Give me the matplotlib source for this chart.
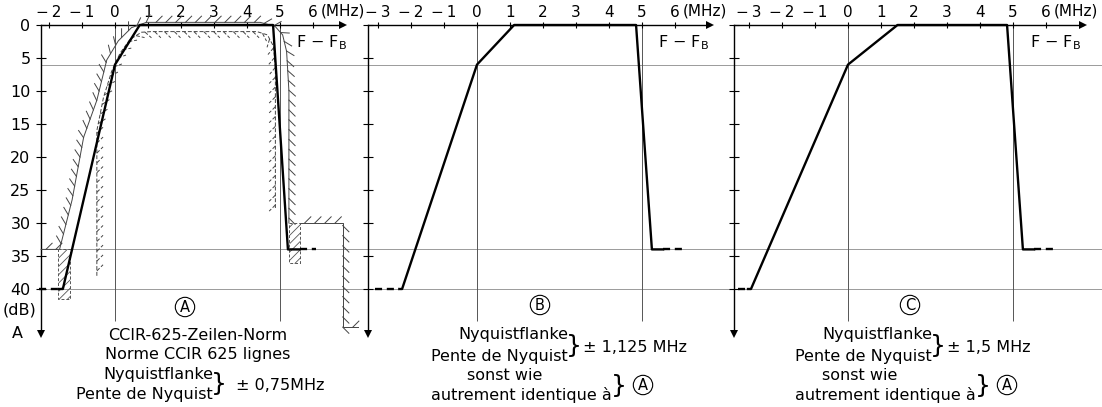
import matplotlib.pyplot as plt
import matplotlib.patheffects as pe
from matplotlib.patches import Rectangle

plt.rcParams['font.family'] = ['DejaVu Sans']
plt.rcParams['hatch.linewidth'] = 0.6

W, H = 1102, 407
PX_MHZ = 33.0
PX_DB = 6.6
Y0 = 25          # pixel row of 0 dB
DB_MAX = 48      # bottom of every panel in dB

# panel left edge, right edge and position of 0 MHz (pixels)
PANEL_PX = [(41, 368, 115), (368, 734, 477), (734, 1102, 848)]
PANEL_TICKS = [list(range(-2, 7)), list(range(-3, 7)), list(range(-3, 7))]
ARROW_END = [6.9, 7.06, 7.12]

# response curves (MHz, dB attenuation)
CURVE_F = [[-1.70, -1.58, 0.0, 0.75, 4.79, 5.24, 5.60],
           [-2.35, -2.27, 0.0, 1.125, 4.82, 5.30, 5.64],
           [-3.03, -2.94, 0.0, 1.5, 4.82, 5.30, 5.64]]
CURVE_DB = [40, 40, 6, 0, 0, 34, 34]
DASH_LEFT = [(-2.30, -1.70), (-3.10, -2.35), (-3.33, -3.03)]
DASH_RIGHT = [(5.60, 6.10), (5.64, 6.20), (5.64, 6.20)]

# tolerance mask of panel A
OUTER_F = [-2.24, -1.68, -1.30, -0.95, -0.55, -0.25, 0.10, 0.50, 0.95, 4.40, 4.85, 5.08, 5.20, 5.27, 5.27]
OUTER_DB = [34, 34, 26.5, 17, 11.4, 5.3, 2.4, 0.4, -0.4, -0.4, 0.2, 1.5, 4, 10, 30]
INNER_F = [-0.55, -0.55, -0.35, -0.10, 0.15, 0.45, 0.80, 1.10, 4.30, 4.62, 4.80, 4.86, 4.86]
INNER_DB = [38, 16, 11, 7, 4.3, 2.2, 1.1, 1.0, 1.0, 1.5, 3.2, 6.5, 28]
RIGHT_F = [5.60, 6.90, 6.90, 7.35]
RIGHT_DB = [30, 30, 45.8, 45.8]
BOX_LEFT = (-1.72, 34, 0.36, 7.5)   # f, dB, width, height
BOX_RIGHT = (5.27, 30, 0.33, 6)

GRID_DB = [6, 34, 40]
GRID_F = [0, 5]

fig = plt.figure(figsize=(W / 100, H / 100), dpi=100)
y_bot = Y0 + DB_MAX * PX_DB

axes = []
for i, (l, r, z) in enumerate(PANEL_PX):
    ax = fig.add_axes([l / W, (H - y_bot) / H, (r - l) / W, (y_bot - Y0) / H])
    ax.set_facecolor('none')
    x0 = (l - z) / PX_MHZ
    x1 = (r - z) / PX_MHZ
    ax.set_xlim(x0, x1)
    ax.set_ylim(DB_MAX, 0)

    for d in GRID_DB:
        ax.axhline(d, color='#9a9a9a', lw=0.7, zorder=1)
    ax.vlines(GRID_F, 0, 44.8, color='#555555', lw=0.7, zorder=1)

    ax.spines['right'].set_visible(False)
    ax.spines['bottom'].set_visible(False)
    ax.spines['top'].set_bounds(x0, ARROW_END[i])
    ax.spines['left'].set_bounds(0, 46.6)
    for s in ['top', 'left']:
        ax.spines[s].set_linewidth(1.0)
    ax.plot([ARROW_END[i]], [0], marker='>', ms=6, color='k', mew=0, clip_on=False)
    ax.plot([x0], [46.8], marker='v', ms=6, color='k', mew=0, clip_on=False)

    ax.xaxis.set_ticks_position('top')
    ticks = PANEL_TICKS[i]
    ax.set_xticks(ticks)
    ax.set_xticklabels([f"−\u2009{abs(t)}" if t < 0 else str(t) for t in ticks])
    ax.tick_params(axis='x', direction='inout', length=5, width=0.8, pad=1, labelsize=11)
    ax.set_yticks(range(0, 41, 5))
    if i == 0:
        ax.set_yticklabels([str(v) for v in range(0, 41, 5)])
    else:
        ax.set_yticklabels([])
    ax.tick_params(axis='y', direction='inout', length=7, width=0.8, pad=4, labelsize=11.5)

    ax.text(6.22, -2.15, "(MHz)", ha='left', va='center', fontsize=11, clip_on=False)
    ax.text(5.5, 2.6, "F − F$_\\mathrm{B}$", ha='left', va='center', fontsize=11.5)

    # curve
    ax.plot(CURVE_F[i], CURVE_DB, color='k', lw=1.7, zorder=5, clip_on=False)
    ax.plot(DASH_LEFT[i], [40, 40], color='k', lw=1.7, ls=(0, (3, 2)), zorder=5, clip_on=False)
    ax.plot(DASH_RIGHT[i], [34, 34], color='k', lw=1.7, ls=(0, (3, 2)), zorder=5, clip_on=False)
    axes.append(ax)

axA = axes[0]
axA.text(-2.88, 43.2, "(dB)", ha='center', va='center', fontsize=11.5, clip_on=False)
axA.text(-2.95, 46.7, "A", ha='center', va='center', fontsize=11.5, clip_on=False)

# tolerance mask (hatched lines)
tick_out = [pe.withTickedStroke(angle=45, spacing=7, length=0.9)]
tick_in = [pe.withTickedStroke(angle=-45, spacing=7, length=0.9)]
axA.plot(OUTER_F, OUTER_DB, color='#444444', lw=0.7, path_effects=tick_out, zorder=3, clip_on=False)
axA.plot(RIGHT_F, RIGHT_DB, color='#444444', lw=0.7, path_effects=tick_out, zorder=3, clip_on=False)
axA.plot(INNER_F, INNER_DB, color='#444444', lw=0.7, ls=(0, (4, 2)), path_effects=tick_in, zorder=3)
for f, d, w, h in [BOX_LEFT, BOX_RIGHT]:
    axA.add_patch(Rectangle((f, d), w, h, fill=False, hatch='////', ec='#555555', lw=0.7,
                            ls=(0, (3, 2)), zorder=3, clip_on=False))


def ftext(x, y, s, **kw):
    kw.setdefault('fontsize', 11.5)
    kw.setdefault('va', 'center')
    return fig.text(x / W, 1 - y / H, s, **kw)


def circled(x, y, s):
    ftext(x, y, s, ha='center', fontsize=10.5,
          bbox=dict(boxstyle='circle,pad=0.15', fc='white', ec='k', lw=0.8))


# labels below the panels
circled(185, 307, "A")
circled(540, 305, "B")
circled(910, 305, "C")

ftext(198, 336, "CCIR-625-Zeilen-Norm", ha='center')
ftext(198, 355, "Norme CCIR 625 lignes", ha='center')
ftext(213, 374, "Nyquistflanke", ha='right')
ftext(213, 394, "Pente de Nyquist", ha='right')
ftext(219, 384, "}", ha='center', fontsize=18)
ftext(236, 385, "± 0,75MHz", ha='left')

NYQ_TEXT = ["± 1,125 MHz", "± 1,5 MHz"]
NYQ_RIGHT = [568, 932]
SONST_X = [505, 860]
for k, xr in enumerate(NYQ_RIGHT):
    ftext(xr, 335, "Nyquistflanke", ha='right')
    ftext(xr, 356, "Pente de Nyquist", ha='right')
    ftext(xr + 6, 346, "}", ha='center', fontsize=18)
    ftext(xr + 15, 348, NYQ_TEXT[k], ha='left')
    ftext(SONST_X[k], 375, "sonst wie", ha='center')
    ftext(xr + 44, 395, "autrement identique à", ha='right')
    ftext(xr + 51, 386, "}", ha='center', fontsize=18)
    circled(xr + 75, 385, "A")

fig.savefig("out.png", dpi=100)
